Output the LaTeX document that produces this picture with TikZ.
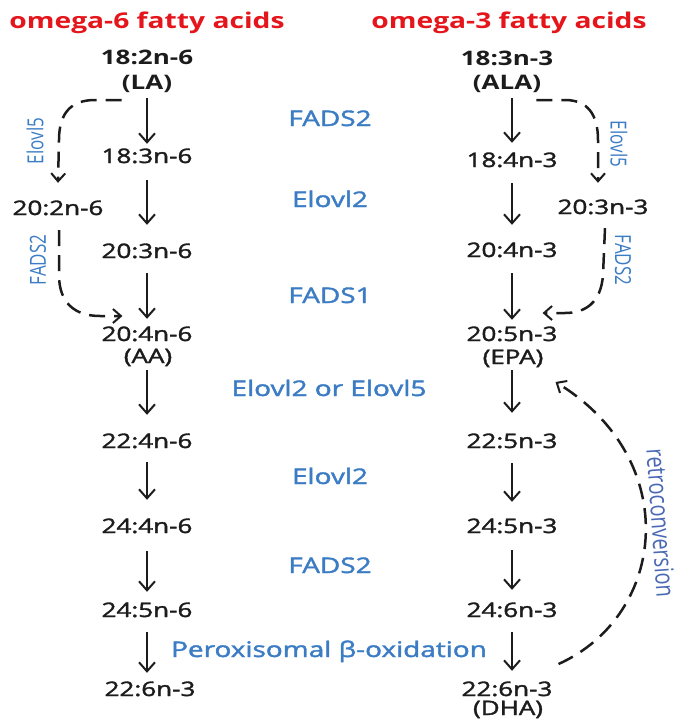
\documentclass[tikz,border=0pt]{standalone}
\usepackage{graphicx}
\usepackage{fontspec}
\setmainfont{Open Sans}
\newfontfamily\medfont{Open Sans}[FakeBold=1.6]
\usetikzlibrary{arrows.meta}

\definecolor{inkblack}{HTML}{1C1C1C}
\definecolor{enzblue}{HTML}{3B7CC4}
\definecolor{retroblue}{HTML}{4A68B4}
\definecolor{titlered}{HTML}{E5161B}

% horizontally widened lettering
\newcommand{\wide}[1]{\scalebox{1.3}[1]{#1}}
\newcommand{\tall}[1]{\scalebox{1}[1.3]{#1}}

\tikzset{
  fa/.style={inner sep=0pt, text height=14pt, text depth=0pt, text=inkblack,
             font=\medfont\fontsize{20}{24}\selectfont},
  fabold/.style={fa, font=\bfseries\fontsize{20}{24}\selectfont},
  enz/.style={inner sep=0pt, text height=14pt, text depth=0pt, text=enzblue,
              font=\medfont\fontsize{21.5}{26}\selectfont},
  side/.style={inner sep=0pt, text=enzblue, font=\fontsize{17}{20}\selectfont},
  retro/.style={inner sep=0pt, text=retroblue, font=\fontsize{20}{24}\selectfont},
  heading/.style={inner sep=0pt, anchor=base, text=titlered,
                  font=\bfseries\fontsize{21.7}{26}\selectfont},
  conv/.style={draw=inkblack, line width=2pt,
               -{Straight Barb[length=9pt,width=16pt,line width=2pt]}},
  dasharr/.style={draw=inkblack, line width=2.5pt, dash pattern=on 16pt off 9pt,
                  -{Straight Barb[length=8pt,width=14pt,line width=2pt]}},
}

\begin{document}
\begin{tikzpicture}[x=1pt, y=-1pt]
\useasboundingbox (0,0) rectangle (677,721);

% headings
\node[heading] (t6) at (147,28) {\wide{omega-6 fatty acids}};
\node[heading] (t3) at (509,28) {\wide{omega-3 fatty acids}};

% omega-6 series
\node[fabold] (la)      at (147,57)  {\wide{18:2n-6}};
\node[fabold] (laab)    at (147,82)  {\wide{(LA)}};
\node[fa] (n183n6)  at (147,156) {\wide{18:3n-6}};
\node[fa] (n202n6)  at (58,208)  {\wide{20:2n-6}};
\node[fa] (n203n6)  at (147,251) {\wide{20:3n-6}};
\node[fa] (n204n6)  at (147,334) {\wide{20:4n-6}};
\node[fa] (aa)      at (148,356) {\wide{(AA)}};
\node[fa] (n224n6)  at (147,441) {\wide{22:4n-6}};
\node[fa] (n244n6)  at (147,526) {\wide{24:4n-6}};
\node[fa] (n245n6)  at (147,610) {\wide{24:5n-6}};
\node[fa] (n226n3l) at (150,689) {\wide{22:6n-3}};

% omega-3 series
\node[fabold] (ala)     at (507,58)  {\wide{18:3n-3}};
\node[fabold] (alaab)   at (507,82)  {\wide{(ALA)}};
\node[fa] (n184n3)  at (512,160) {\wide{18:4n-3}};
\node[fa] (n203n3)  at (603,207) {\wide{20:3n-3}};
\node[fa] (n204n3)  at (512,250) {\wide{20:4n-3}};
\node[fa] (n205n3)  at (512,334) {\wide{20:5n-3}};
\node[fa] (epa)     at (513,357) {\wide{(EPA)}};
\node[fa] (n225n3)  at (512,441) {\wide{22:5n-3}};
\node[fa] (n245n3)  at (512,526) {\wide{24:5n-3}};
\node[fa] (n246n3)  at (512,610) {\wide{24:6n-3}};
\node[fa] (n226n3)  at (507,689) {\wide{22:6n-3}};
\node[fa] (dha)     at (508,708) {\wide{(DHA)}};

% enzymes
\node[enz] (e1) at (330,119) {\wide{FADS2}};
\node[enz] (e2) at (330,200) {\wide{Elovl2}};
\node[enz] (e3) at (330,296) {\wide{FADS1}};
\node[enz] (e4) at (329,389) {\wide{Elovl2 or Elovl5}};
\node[enz] (e5) at (330,477) {\wide{Elovl2}};
\node[enz] (e6) at (330,566) {\wide{FADS2}};
\node[enz] (e7) at (329,650) {\wide{Peroxisomal β-oxidation}};

\node[side, rotate=90]  (s1) at (35,141)  {\tall{Elovl5}};
\node[side, rotate=90]  (s2) at (38,260)  {\tall{FADS2}};
\node[side, rotate=-90] (s3) at (619,144) {\tall{Elovl5}};
\node[side, rotate=-90] (s4) at (623,260) {\tall{FADS2}};
\node[retro, rotate=-86] (s5) at (661,523) {\tall{retroconversion}};

% omega-6 steps
\draw[conv, shorten <=9pt,  shorten >=5pt]  (laab.south)   -- (n183n6.north);
\draw[conv, shorten <=17pt, shorten >=19pt] (n183n6.south) -- (n203n6.north);
\draw[conv, shorten <=15pt, shorten >=8pt]  (n203n6.south) -- (n204n6.north);
\draw[conv, shorten <=7pt,  shorten >=19pt] (aa.south -| n224n6) -- (n224n6.north);
\draw[conv, shorten <=14pt, shorten >=19pt] (n224n6.south) -- (n244n6.north);
\draw[conv, shorten <=18pt, shorten >=11pt] (n244n6.south) -- (n245n6.north);
\draw[conv, shorten <=15pt, shorten >=9pt]  (n245n6.south) -- (n245n6.south |- n226n3l.north);

% omega-3 steps
\draw[conv, shorten <=9pt,  shorten >=10pt] (alaab.south -| n184n3) -- (n184n3.north);
\draw[conv, shorten <=16pt, shorten >=18pt] (n184n3.south) -- (n204n3.north);
\draw[conv, shorten <=16pt, shorten >=7pt]  (n204n3.south) -- (n205n3.north);
\draw[conv, shorten <=6pt,  shorten >=21pt] (epa.south -| n225n3) -- (n225n3.north);
\draw[conv, shorten <=15pt, shorten >=17pt] (n225n3.south) -- (n245n3.north);
\draw[conv, shorten <=17pt, shorten >=13pt] (n245n3.south) -- (n246n3.north);
\draw[conv, shorten <=15pt, shorten >=11pt] (n246n3.south) -- (n246n3.south |- n226n3.north);

% side routes
\draw[dasharr] ([yshift=-11pt]laab.south west) -- (95,100)
  .. controls (72,100) and (59,112) .. (59,140) -- ([yshift=18pt]n202n6.north);
\draw[dasharr] ([xshift=1pt,yshift=-15pt]n202n6.south) -- (59,275)
  .. controls (59,303) and (75,316) .. (100,316) -- ([xshift=21pt,yshift=18pt]n204n6.west);
\draw[dasharr] ([xshift=-5pt,yshift=-11pt]alaab.south east) -- (565,100)
  .. controls (588,100) and (598,115) .. (598,140) -- ([xshift=-5pt,yshift=17pt]n203n3.north);
\draw[dasharr] ([xshift=2pt,yshift=-14pt]n203n3.south) -- (603,275)
  .. controls (601,303) and (585,313) .. (565,313) -- ([xshift=-15pt,yshift=21pt]n205n3.east);

% retroconversion
\draw[dasharr] ([xshift=6pt,yshift=25pt]n226n3.east)
  .. controls (667,615) and (683,460) .. ([xshift=12pt,yshift=-25pt]epa.east);
\end{tikzpicture}
\end{document}
